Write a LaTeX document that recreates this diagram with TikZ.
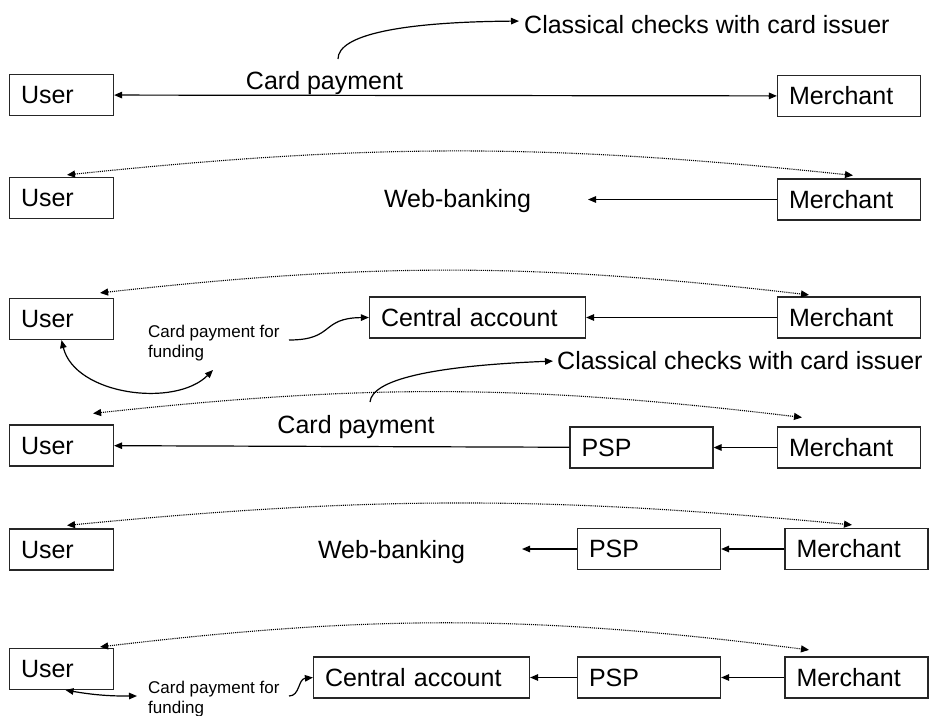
\documentclass[tikz,border=0pt]{standalone}
\usepackage{fontspec}
\setmainfont{Liberation Sans}
\usetikzlibrary{arrows.meta, positioning}

\begin{document}
\begin{tikzpicture}[x=1pt, y=-1pt]
    % Styles
    \tikzset{
        block/.style = {rectangle, draw=black!85, line width=1.2pt, text width=#1, align=left, inner xsep=11.5pt, inner ysep=0pt, text height=17.9pt, text depth=0pt, minimum height=41pt, font=\fontsize{25}{30}\selectfont},
        big/.style   = {inner sep=0pt, font=\fontsize{25}{30}\selectfont},
        small/.style = {inner sep=0pt, align=left, font=\fontsize{17}{20}\selectfont},
        line/.style  = {draw, line width=1.2pt, -{Triangle[length=8pt, width=6.5pt]}},
        both/.style  = {draw, line width=1.2pt, {Triangle[length=8pt, width=6.5pt]}-{Triangle[length=8pt, width=6.5pt]}},
        dots/.style  = {draw, line width=1.1pt, densely dotted, {Triangle[length=8pt, width=7pt]}-{Triangle[length=8pt, width=7pt]}}
    }
    \useasboundingbox (0,0) rectangle (929,715);

    % Ligne 1 : paiement par carte
    \node [block=81pt] (user1) at (61.5,95) {User};
    \node [block=120pt] (merchant1) at (849,96) {Merchant};
    \node [big, anchor=base] (pay1) at (324.5,89) {Card payment};
    \node [big, anchor=base west] (check1) at (524,33) {Classical checks with card issuer};
    \coordinate (from1) at (338,59);

    \path [both] (user1) -- (merchant1);
    \draw [line] (from1) .. controls (338,35) and (400,22) .. ([xshift=-5pt, yshift=3pt]check1.west);

    % Ligne 2 : web-banking
    \node [block=81pt] (user2) at (61.5,198) {User};
    \node [block=120pt] (merchant2) at (849,199.5) {Merchant};
    \node [big, anchor=base] (web2) at (457.5,207) {Web-banking};
    \coordinate (to2) at (588,199.5);

    \path [line] (merchant2) -- (to2);
    \path [dots] ([xshift=5.5pt, yshift=2pt]user2.north) to [bend left=6] ([xshift=4pt, yshift=3pt]merchant2.north);

    % Ligne 3 : compte central
    \node [block=81pt] (user3) at (61.5,319) {User};
    \node [block=193pt] (central3) at (477.5,317.5) {Central account};
    \node [block=120pt] (merchant3) at (849,317.5) {Merchant};
    \node [small, anchor=north west] (fund3) at (148,324.5) {Card payment for\\funding};
    \coordinate (start3) at (289,340);
    \coordinate (end3) at (213,370);

    \path [line] (merchant3) -- (central3);
    \path [dots] ([xshift=-14pt, yshift=5pt]user3.north east) to [bend left=6.5] ([xshift=-40pt, yshift=1.5pt]merchant3.north);
    \draw [line] (start3) .. controls (335,340) and (320,318) .. (central3.west);
    \draw [both] (user3.south) .. controls (75,395) and (175,408) .. (end3);

    % Ligne 4 : paiement par carte via PSP
    \node [block=81pt] (user4) at (61.5,445.5) {User};
    \node [block=120pt] (psp4) at (641.5,447.5) {PSP};
    \node [block=120pt] (merchant4) at (849,447.5) {Merchant};
    \node [big, anchor=base] (pay4) at (356,433) {Card payment};
    \node [big, anchor=base west] (check4) at (557,369) {Classical checks with card issuer};
    \coordinate (from4) at (370,402);

    \path [line] (merchant4) -- (psp4);
    \path [line] (psp4) -- (user4);
    \draw [line] (from4) .. controls (372,380) and (430,366) .. ([xshift=-4pt, yshift=-1pt]check4.west);
    \path [dots] ([xshift=-21pt, yshift=11pt]user4.north east) to [bend left=6.5] ([xshift=-47pt, yshift=9pt]merchant4.north);

    % Ligne 5 : web-banking via PSP
    \node [block=81pt] (user5) at (61.5,549.5) {User};
    \node [block=120pt] (psp5) at (649,549) {PSP};
    \node [block=120pt] (merchant5) at (856.5,549) {Merchant};
    \node [big, anchor=base] (web5) at (391.5,558) {Web-banking};
    \coordinate (to5) at (522,549);

    \path [line] (merchant5) -- (psp5);
    \path [line] (psp5) -- (to5);
    \path [dots] ([xshift=5.5pt, yshift=3pt]user5.north) to [bend left=5.5] ([xshift=-4.5pt, yshift=3pt]merchant5.north);

    % Ligne 6 : compte central via PSP
    \node [block=81pt] (user6) at (61.5,669) {User};
    \node [block=193pt] (central6) at (421.5,677.5) {Central account};
    \node [block=120pt] (psp6) at (649,677.5) {PSP};
    \node [block=120pt] (merchant6) at (856.5,677.5) {Merchant};
    \node [small, anchor=north west] (fund6) at (148,680.5) {Card payment for\\funding};
    \coordinate (start6) at (289,696);
    \coordinate (end6) at (137,696);

    \path [line] (merchant6) -- (psp6);
    \path [line] (psp6) -- (central6);
    \draw [line] (start6) .. controls (300,696) and (298,679) .. (central6.west);
    \draw [both] ([xshift=4pt]user6.south) to [bend right=5] (end6);
    \path [dots] ([xshift=-14pt, yshift=1pt]user6.north east) to [bend left=7] ([xshift=-47.5pt, yshift=6.5pt]merchant6.north);
\end{tikzpicture}
\end{document}
